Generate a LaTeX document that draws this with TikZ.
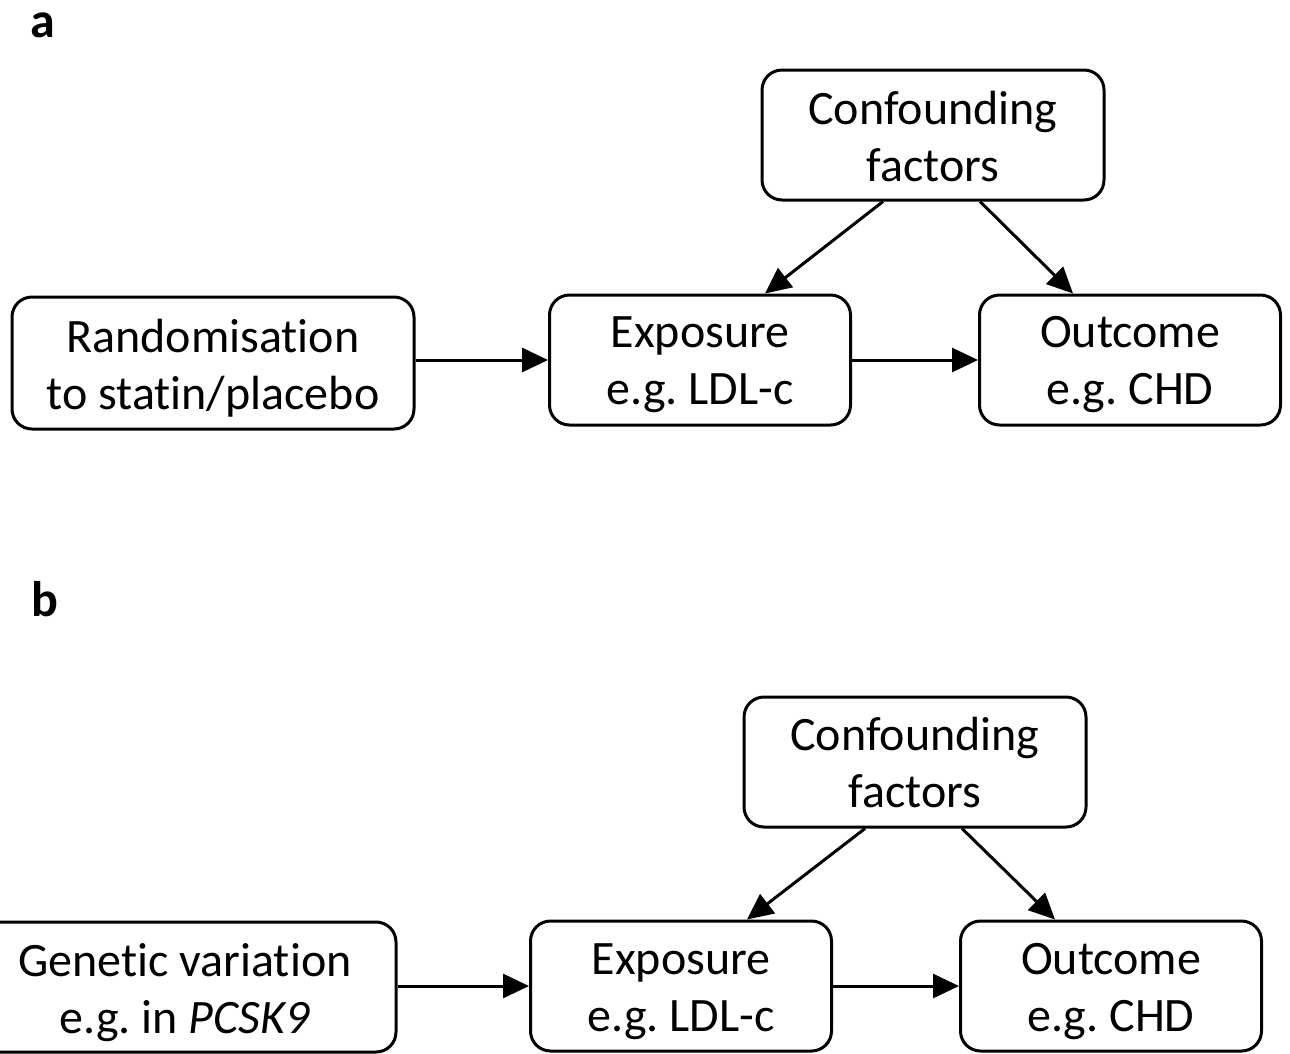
\documentclass[tikz,border=0pt]{standalone}
\usepackage{fontspec}
\setmainfont[Ligatures={NoCommon}]{Carlito}
\usetikzlibrary{arrows.meta,calc}
\begin{document}
\frenchspacing
\begin{tikzpicture}[x=1pt,y=-1pt,
  box/.style={draw,line width=3pt,rounded corners=20pt,minimum width=301pt,minimum height=130pt,inner sep=0pt},
  txt/.style={align=center,inner sep=0pt,font=\fontsize{48}{57}\selectfont},
  arr/.style={line width=3pt,-{Triangle[length=26pt,width=24pt]}},
  lbl/.style={font=\fontsize{50}{58}\selectfont\bfseries,inner sep=0pt}]
\useasboundingbox (0,0) rectangle (1290,1053);
\clip (0,0) rectangle (1290,1053);
% panel a
\node[lbl] (la) at (43,25) {a};
\node[box,minimum width=342pt] (confa) at (933,135) {};
\node[txt] (tconfa) at ($(confa.center)+(0,2)$) {Confounding\\factors};
\node[box,minimum width=402pt,minimum height=132pt] (randa) at (213,363) {};
\node[txt] (tranda) at ($(randa.center)+(0,5)$) {Randomisation\\to statin/placebo};
\node[box] (expa) at (700,360) {};
\node[txt] (texpa) at ($(expa.center)+(0,5)$) {Exposure\\e.g. LDL-c};
\node[box] (outa) at (1130,360) {};
\node[txt] (touta) at ($(outa.center)+(0,5)$) {Outcome\\e.g. CHD};
\draw[arr] (randa.east |- expa) -- (expa.west);
\draw[arr] (expa.east) -- (outa.west);
\draw[arr] ($(confa.south)+(-50,0)$) -- ($(expa.north)+(65,0)$);
\draw[arr] ($(confa.south)+(47,0)$) -- ($(outa.north)+(-57,0)$);
% panel b
\node[lbl] (lb) at (45,599) {b};
\node[box,minimum width=342pt] (confb) at (915,762) {};
\node[txt] (tconfb) at (confb.center) {Confounding\\factors};
\node[box,minimum width=422pt] (genb) at (185,987) {};
\node[txt] (tgenb) at ($(genb.center)+(0,6)$) {Genetic variation\\e.g. in \textit{PCSK9}};
\node[box] (expb) at (681,986) {};
\node[txt] (texpb) at ($(expb.center)+(0,6)$) {Exposure\\e.g. LDL-c};
\node[box] (outb) at (1111,986) {};
\node[txt] (toutb) at ($(outb.center)+(0,6)$) {Outcome\\e.g. CHD};
\draw[arr] (genb.east |- expb) -- (expb.west);
\draw[arr] (expb.east) -- (outb.west);
\draw[arr] ($(confb.south)+(-50,0)$) -- ($(expb.north)+(66,0)$);
\draw[arr] ($(confb.south)+(47,0)$) -- ($(outb.north)+(-56,0)$);
\end{tikzpicture}
\end{document}
